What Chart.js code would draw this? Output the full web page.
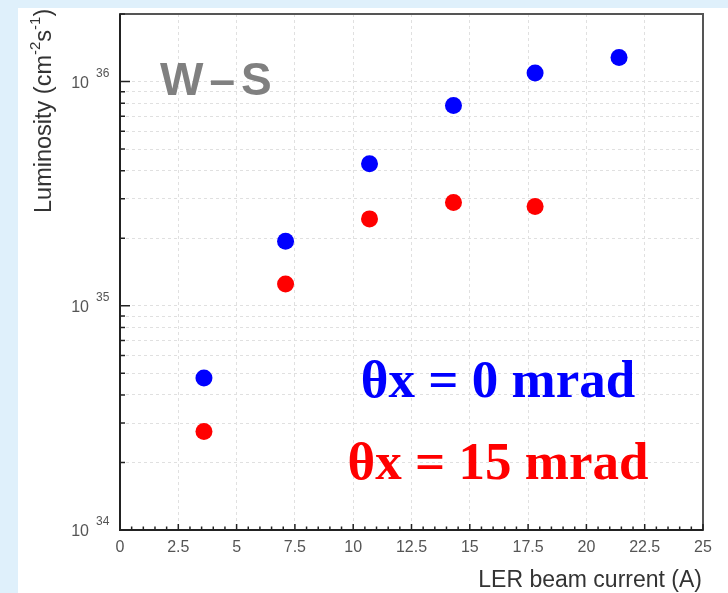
<!DOCTYPE html>
<html>
<head>
<meta charset="utf-8">
<script src="https://cdn.jsdelivr.net/npm/chart.js@4.4.0/dist/chart.umd.min.js"></script>
<style>
  html, body { margin: 0; padding: 0; background: #dff0fb; }
  canvas { display: block; }
</style>
</head>
<body>
<canvas id="lumiChart" width="728" height="593"></canvas>
<script>
// data
const currentZero = [3.6, 7.1, 10.7, 14.3, 17.8, 21.4];
const lumiZero = [4.76e34, 1.94e35, 4.30e35, 7.81e35, 1.09e36, 1.28e36];
const current15 = [3.6, 7.1, 10.7, 14.3, 17.8];
const lumi15 = [2.75e34, 1.25e35, 2.44e35, 2.89e35, 2.77e35];

const xTicks = [0, 2.5, 5, 7.5, 10, 12.5, 15, 17.5, 20, 22.5, 25];
const yDecades = [34, 35, 36];
const yMantissas = [1, 2, 3, 4, 5, 6, 7, 8, 9];
const yMin = 1e34, yMax = 2e36;

const seriesLabels = ['θx = 0 mrad', 'θx = 15 mrad'];
const seriesColors = ['#0000ff', '#ff0000'];
const panelLabel = 'W–S';
const xTitle = 'LER beam current (A)';

const yTickValues = yDecades.flatMap(d => yMantissas.map(m => m * Math.pow(10, d)))
  .filter(v => v <= yMax * 1.0001);

const toPoints = (xs, ys) => xs.map((x, i) => ({ x: x, y: ys[i] }));

// background, frame, inward ticks and the text that Chart.js can't do (superscripts)
const decorPlugin = {
  id: 'decor',
  beforeDraw(chart) {
    const ctx = chart.ctx;
    ctx.save();
    ctx.fillStyle = '#dff0fb';
    ctx.fillRect(0, 0, chart.width, chart.height);
    ctx.fillStyle = '#ffffff';
    ctx.fillRect(18, 8, chart.width - 18, chart.height - 8);
    ctx.restore();
  },
  afterDraw(chart) {
    const ctx = chart.ctx;
    const a = chart.chartArea;
    const xs = chart.scales.x, ys = chart.scales.y;
    ctx.save();

    // frame
    ctx.strokeStyle = '#555';
    ctx.lineWidth = 2;
    ctx.strokeRect(a.left, a.top, a.right - a.left, a.bottom - a.top);
    ctx.strokeStyle = '#222';
    ctx.beginPath();
    ctx.moveTo(a.left, a.top);
    ctx.lineTo(a.left, a.bottom);
    ctx.lineTo(a.right, a.bottom);
    ctx.stroke();

    // inward ticks, x
    ctx.lineWidth = 1.5;
    for (let v = 0; v <= 25; v += 0.5) {
      const px = xs.getPixelForValue(v);
      const len = (v % 2.5 === 0) ? 6 : 3.5;
      ctx.beginPath();
      ctx.moveTo(px, a.bottom);
      ctx.lineTo(px, a.bottom - len);
      ctx.stroke();
    }
    // inward ticks, y
    yTickValues.forEach(v => {
      const py = ys.getPixelForValue(v);
      const major = yDecades.some(d => Math.abs(v - Math.pow(10, d)) < v * 1e-6);
      ctx.beginPath();
      ctx.moveTo(a.left, py);
      ctx.lineTo(a.left + (major ? 10 : 5), py);
      ctx.stroke();
    });

    // y tick labels 10^n
    ctx.fillStyle = '#555';
    yDecades.forEach(d => {
      const py = ys.getPixelForValue(Math.pow(10, d));
      ctx.font = '16px "Liberation Sans", Arial, sans-serif';
      ctx.textAlign = 'right';
      ctx.textBaseline = 'middle';
      ctx.fillText('10', 89, py + 2);
      ctx.font = '12px "Liberation Sans", Arial, sans-serif';
      ctx.textAlign = 'left';
      ctx.fillText(String(d), 96, py - 8);
    });

    // y title with superscripts
    ctx.translate(51, 213);
    ctx.rotate(-Math.PI / 2);
    ctx.fillStyle = '#333';
    ctx.textAlign = 'left';
    ctx.textBaseline = 'alphabetic';
    const big = '23.5px "Liberation Sans", Arial, sans-serif';
    const small = '15px "Liberation Sans", Arial, sans-serif';
    const parts = [['Luminosity (cm', big, 0], ['-2', small, -11], ['s', big, 0], ['-1', small, -11], [')', big, 0]];
    let cx = 0;
    parts.forEach(p => {
      ctx.font = p[1];
      ctx.fillText(p[0], cx, p[2]);
      cx += ctx.measureText(p[0]).width;
    });
    ctx.setTransform(1, 0, 0, 1, 0, 0);

    // x title
    ctx.fillStyle = '#333';
    ctx.font = '23px "Liberation Sans", Arial, sans-serif';
    ctx.textAlign = 'right';
    ctx.fillText(xTitle, 702, 587);

    // panel label
    ctx.fillStyle = '#808080';
    ctx.font = 'bold 46px "Liberation Sans", Arial, sans-serif';
    ctx.textAlign = 'left';
    ctx.letterSpacing = '6px';
    ctx.fillText(panelLabel, 160, 95);
    ctx.letterSpacing = '0px';

    // series labels
    ctx.font = 'bold 53px "Liberation Serif", "Times New Roman", serif';
    ctx.textAlign = 'center';
    ctx.fillStyle = seriesColors[0];
    ctx.fillText(seriesLabels[0], 498, 397);
    ctx.fillStyle = seriesColors[1];
    ctx.fillText(seriesLabels[1], 498, 479);

    ctx.restore();
  }
};

const ctx = document.getElementById('lumiChart').getContext('2d');
const lumiChart = new Chart(ctx, {
  type: 'scatter',
  data: {
    datasets: [{
      label: seriesLabels[0],
      data: toPoints(currentZero, lumiZero),
      backgroundColor: seriesColors[0],
      borderWidth: 0,
      pointRadius: 8.5,
      pointHoverRadius: 8.5
    }, {
      label: seriesLabels[1],
      data: toPoints(current15, lumi15),
      backgroundColor: seriesColors[1],
      borderWidth: 0,
      pointRadius: 8.5,
      pointHoverRadius: 8.5
    }]
  },
  options: {
    responsive: false,
    animation: false,
    devicePixelRatio: 1,
    layout: { padding: { top: 14, right: 25, left: 0, bottom: 0 } },
    plugins: { legend: { display: false }, tooltip: { enabled: false } },
    scales: {
      x: {
        type: 'linear',
        min: 0,
        max: 25,
        afterBuildTicks: scale => { scale.ticks = xTicks.map(v => ({ value: v })); },
        afterFit: scale => { scale.height = 63; },
        grid: { color: '#e0e0e0', lineWidth: 1, drawTicks: false },
        border: { display: false, dash: [3, 3] },
        ticks: {
          color: '#555',
          padding: 8,
          font: { size: 16, family: '"Liberation Sans", Arial, sans-serif' },
          maxRotation: 0,
          autoSkip: false,
          callback: v => String(v)
        }
      },
      y: {
        type: 'logarithmic',
        min: yMin,
        max: yMax,
        afterBuildTicks: scale => { scale.ticks = yTickValues.map(v => ({ value: v })); },
        afterFit: scale => { scale.width = 120; },
        grid: { color: '#e0e0e0', lineWidth: 1, drawTicks: false },
        border: { display: false, dash: [3, 3] },
        ticks: { display: false }
      }
    }
  },
  plugins: [decorPlugin]
});
</script>
</body>
</html>
